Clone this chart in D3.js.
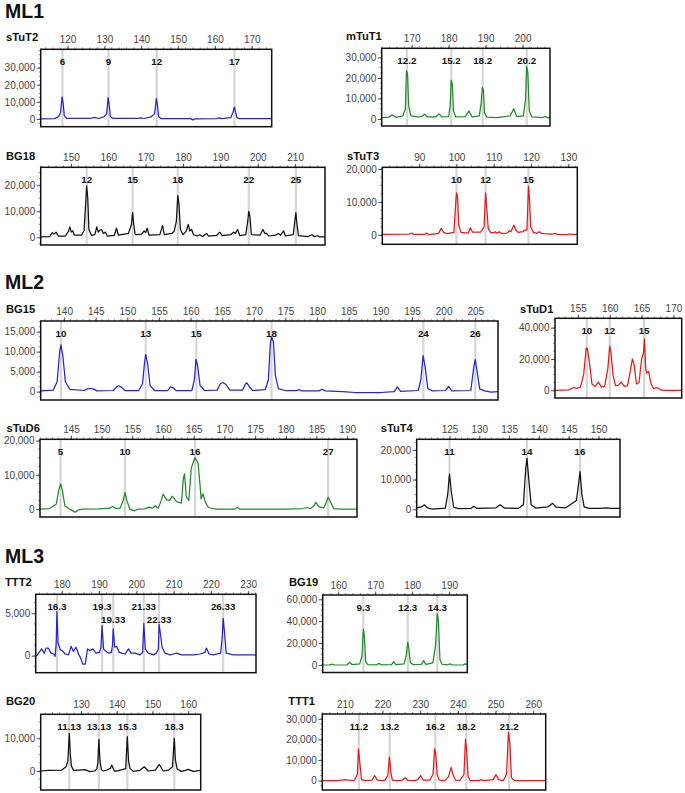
<!DOCTYPE html>
<html><head><meta charset="utf-8">
<script src="https://cdn.jsdelivr.net/npm/d3@7"></script>
<style>
body{margin:0;background:#fff}
svg{display:block}
text{font-family:Arial,"Liberation Sans",Helvetica,sans-serif}
</style>
</head><body>
<svg id="c" width="685" height="793"></svg>
<script>
// ===== DATA: traces are [size bp, RFU] =====
const sections = ["ML1", "ML2", "ML3"];

// ---- sTuT2 ----
const sTuT2_xticks = [120,130,140,150,160,170];
const sTuT2_yticks = [0,10000,20000,30000];
const sTuT2_alleles = ["6","9","12","17"];
const sTuT2_allelePos = [118.6,131.1,144.2,165.3];
const sTuT2_trace = [[112.7,100],[116.5,200],[117.6,1500],[118.1,4000],[118.5,13000],[118.8,9000],[119.1,2000],[119.8,300],[126,300],[127.3,1000],[128.5,300],[129.8,1200],[130.6,3000],[131.0,12500],[131.3,8000],[131.6,1500],[132.3,300],[138.8,300],[139.8,700],[140.8,300],[142.6,1200],[143.6,3000],[144.1,12000],[144.4,8000],[144.7,1500],[145.4,200],[153.4,200],[154,-500],[154.6,100],[160.5,200],[161.2,700],[161.9,200],[164.3,800],[164.9,4000],[165.3,7000],[165.6,4000],[166,800],[166.6,200],[175.4,200]];

// ---- mTuT1 ----
const mTuT1_xticks = [170,180,190,200];
const mTuT1_yticks = [0,10000,20000,30000];
const mTuT1_alleles = ["12.2","15.2","18.2","20.2"];
const mTuT1_allelePos = [168.7,180.7,189.2,201.1];
const mTuT1_trace = [[161.9,700],[163.8,900],[164.8,2000],[165.8,800],[167.6,1500],[168.3,5000],[168.6,23500],[168.9,22000],[169.2,6000],[169.8,1500],[171.5,1000],[172.7,1200],[173.5,2300],[174.3,1000],[176.5,1000],[177.4,2500],[178.2,1000],[180.0,1200],[180.4,6000],[180.7,19000],[181.0,17000],[181.3,4000],[181.9,1000],[184.5,1200],[185.5,4000],[186.3,1000],[188.3,1500],[188.8,8000],[189.1,15500],[189.4,14000],[189.7,3000],[190.3,900],[193,700],[196.6,1500],[197.6,5000],[198.4,1200],[200.2,1500],[200.8,10000],[201.1,25500],[201.4,23000],[201.8,4000],[202.5,1000],[205.5,700],[206.1,1300],[206.7,600],[207.4,600]];

// ---- BG18 ----
const BG18_xticks = [150,160,170,180,190,200,210];
const BG18_yticks = [0,10000,20000];
const BG18_alleles = ["12","15","18","22","25"];
const BG18_allelePos = [154.2,166.5,178.6,197.6,210.2];
const BG18_trace = [[141.9,200],[144.3,300],[145.0,1800],[145.5,1200],[146.0,2000],[146.6,500],[148.5,500],[149.4,2500],[149.7,4000],[150.1,2000],[150.5,2500],[150.9,800],[152.8,800],[153.5,2500],[153.9,12000],[154.2,19800],[154.5,15000],[154.8,3000],[155.5,700],[156.4,1000],[156.9,4000],[157.3,2000],[157.8,2800],[158.2,3000],[158.7,1500],[159.2,2000],[159.7,500],[161.6,700],[162.2,3500],[162.7,800],[165.4,1500],[166.2,5000],[166.5,9500],[166.8,5000],[167.2,1000],[168.9,1200],[169.6,2500],[170.0,1800],[170.4,3500],[170.9,800],[173.8,1000],[174.5,4500],[175.0,1000],[177.0,1500],[177.6,2200],[178.2,6000],[178.6,16000],[178.9,13000],[179.3,3000],[180.0,1000],[180.9,2500],[181.4,5000],[181.8,2500],[182.3,3000],[182.8,1000],[183.8,500],[184.5,1000],[185.2,300],[185.8,1000],[186.3,1500],[186.8,500],[189.0,700],[189.8,2000],[190.5,600],[192.8,1000],[193.5,2000],[194.0,1500],[194.6,3000],[195.2,600],[196.8,1000],[197.3,6000],[197.6,10000],[197.9,8000],[198.3,1000],[200.6,800],[201.4,3000],[201.9,1500],[202.4,1500],[202.9,500],[204.8,800],[205.5,1500],[206.1,800],[206.9,2500],[207.4,500],[209.5,1000],[209.9,6000],[210.2,9500],[210.5,5000],[210.9,600],[213.5,300],[214.5,1000],[215.1,300],[216.0,600],[216.6,200],[218,200]];

// ---- sTuT3 ----
const sTuT3_xticks = [90,100,110,120,130];
const sTuT3_yticks = [0,10000,20000];
const sTuT3_alleles = ["10","12","15"];
const sTuT3_allelePos = [100.0,107.8,119.3];
const sTuT3_trace = [[80.1,200],[87.3,300],[88.0,600],[88.6,200],[91.5,200],[92.0,600],[92.6,100],[95.2,500],[95.9,2000],[96.6,700],[97.5,400],[99.3,800],[99.7,8000],[100.0,12800],[100.3,11500],[100.6,3000],[101.2,800],[103.2,600],[103.7,2200],[104.3,900],[106.5,900],[107.4,2500],[107.8,12800],[108.1,8500],[108.5,2000],[109.2,700],[110.0,700],[110.4,1000],[110.9,500],[111.5,1000],[112.0,500],[113.6,600],[114.2,1300],[114.6,1000],[115.4,3000],[115.9,1500],[116.5,800],[117.8,1000],[118.3,1500],[118.9,1500],[119.3,14800],[119.6,10500],[119.9,2500],[120.6,800],[121.6,500],[122.2,1000],[122.8,500],[123.5,400],[125.8,300],[126.4,500],[127.1,200],[129.5,100],[130.2,300],[131,200],[132.4,200]];

// ---- BG15 ----
const BG15_xticks = [140,145,150,155,160,165,170,175,180,185,190,195,200,205];
const BG15_yticks = [0,5000,10000,15000];
const BG15_alleles = ["10","13","15","18","24","26"];
const BG15_allelePos = [139.5,152.9,160.9,172.8,196.8,205.0];
const BG15_trace = [[136.3,200],[138.3,400],[138.9,2500],[139.3,10000],[139.5,11700],[139.8,9000],[140.2,2500],[140.9,600],[143.2,300],[143.7,700],[144.1,800],[144.6,700],[145.2,200],[147.8,300],[148.3,1200],[148.6,1500],[149.0,1200],[149.6,300],[151.8,300],[152.4,2000],[152.7,7000],[152.9,9300],[153.2,7000],[153.6,1500],[154.3,300],[156.4,300],[156.8,1200],[157.2,1000],[157.7,300],[160.2,300],[160.6,3000],[160.85,8100],[161.1,6500],[161.5,1500],[162.2,300],[164.2,400],[164.7,2000],[165.1,2300],[165.6,1800],[166.2,400],[168.2,400],[168.7,2000],[168.9,2200],[169.3,1200],[169.8,300],[171.8,500],[172.3,3000],[172.6,12000],[172.8,13700],[173.1,12500],[173.4,4000],[173.9,700],[175,300],[176.8,300],[177.2,500],[177.6,200],[180.3,200],[180.8,600],[181.3,200],[184,0],[186,-200],[190,-200],[192.2,0],[192.7,1200],[193.2,100],[196,300],[196.4,3000],[196.75,9000],[197.1,6000],[197.5,800],[198.2,200],[200.3,300],[200.8,1300],[201.3,200],[204.3,300],[204.8,6500],[205.0,8000],[205.3,5000],[205.7,700],[206.5,200],[207.5,-100],[208.6,0]];

// ---- sTuD1 ----
const sTuD1_xticks = [155,160,165,170];
const sTuD1_yticks = [0,20000,40000];
const sTuD1_alleles = ["10","12","15"];
const sTuD1_allelePos = [156.4,160.0,165.4];
const sTuD1_trace = [[151.4,0],[153.6,300],[154.3,1800],[154.8,1200],[155.4,2000],[155.9,10000],[156.3,27000],[156.5,26500],[156.8,18000],[157.2,4000],[157.7,2500],[158.2,5200],[158.7,2000],[159.2,2500],[159.7,14000],[160.0,28300],[160.2,24000],[160.5,10000],[160.9,3000],[161.3,3000],[161.8,5200],[162.3,2500],[162.8,3000],[163.3,14000],[163.55,20000],[163.8,17000],[164.2,4000],[164.6,5000],[165.0,20000],[165.3,24000],[165.45,32800],[165.65,14000],[165.8,11000],[166.1,12000],[166.5,4000],[166.9,1000],[167.4,1800],[167.9,500],[168.5,0],[171.3,0]];

// ---- sTuD6 ----
const sTuD6_xticks = [145,150,155,160,165,170,175,180,185,190];
const sTuD6_yticks = [0,10000,20000];
const sTuD6_alleles = ["5","10","16","27"];
const sTuD6_allelePos = [143.3,153.8,165.2,186.9];
const sTuD6_trace = [[139.95,0],[141.5,200],[142.6,1500],[143.0,5500],[143.3,7400],[143.6,5500],[144.0,1000],[144.6,200],[145.3,-500],[145.7,-900],[146.2,-200],[147,0],[149.5,100],[151.3,300],[151.8,800],[152.3,200],[153.0,300],[153.5,2500],[153.8,4900],[154.1,2500],[154.6,0],[155.3,-500],[155.9,0],[157,100],[157.7,600],[158.3,300],[158.7,1000],[159.2,300],[159.7,2500],[160.0,4400],[160.6,2700],[161.1,2600],[161.5,3800],[162.2,2200],[163.0,1800],[163.3,9000],[163.5,10300],[163.8,3500],[164.2,2500],[164.6,12000],[165.2,15000],[165.7,13500],[166.0,7500],[166.2,3000],[166.5,4500],[166.9,2000],[167.4,500],[168.5,0],[171.6,0],[172.1,500],[172.6,0],[177.3,0],[180,0],[182.8,200],[183.4,500],[184,200],[184.5,800],[184.9,2000],[185.4,700],[186.2,400],[186.6,2000],[186.9,3500],[187.3,2000],[187.8,200],[189,0],[191.6,0]];

// ---- sTuT4 ----
const sTuT4_xticks = [125,130,135,140,145,150];
const sTuT4_yticks = [0,10000,20000];
const sTuT4_alleles = ["11","14","16"];
const sTuT4_allelePos = [125.0,138.0,146.9];
const sTuT4_trace = [[119.5,500],[120.3,800],[120.8,1500],[121.3,500],[122,100],[124.3,400],[124.7,5000],[125.0,11900],[125.3,6000],[125.7,700],[126.5,200],[128.6,300],[129.1,1000],[129.6,300],[132.8,500],[133.5,1500],[134.2,400],[136.5,300],[137.4,1500],[137.8,14000],[138.0,17200],[138.3,10000],[138.7,1500],[139.5,400],[141.5,800],[142.3,2000],[142.9,700],[144.5,500],[146.3,3000],[146.9,12700],[147.2,5000],[147.6,700],[148.5,300],[150.3,300],[151.4,500],[152,300],[153.6,300]];

// ---- TTT2 ----
const TTT2_xticks = [180,190,200,210,220,230];
const TTT2_yticks = [0,5000];
const TTT2_alleles = ["16.3","19.3","19.33","21.33","22.33","26.33"];
const TTT2_allelePos = [178.7,190.8,193.8,202.0,206.1,223.3];
const TTT2_trace = [[173.0,0],[173.3,0],[174.6,800],[175.3,300],[175.8,900],[176.4,900],[177.1,300],[177.8,200],[178.2,-100],[178.5,1500],[178.7,5200],[179.0,1500],[179.6,700],[180.1,600],[180.9,200],[181.8,100],[182.5,1100],[183.1,500],[183.8,1000],[184.6,100],[185.1,-300],[185.6,-1000],[186.3,-1000],[186.9,800],[187.6,600],[188.3,800],[189.2,300],[190.1,400],[190.5,1000],[190.8,3550],[191.2,800],[191.9,500],[192.6,300],[193.3,400],[193.6,1200],[193.8,3150],[194.2,1000],[194.7,1100],[195.4,400],[196.1,300],[197.0,200],[197.9,800],[198.6,300],[199.6,300],[201.0,100],[201.7,400],[202.0,3800],[202.4,800],[203.2,300],[204.6,100],[205.4,300],[205.9,800],[206.1,3700],[206.5,2500],[206.9,1000],[207.7,300],[209.0,100],[209.9,200],[210.8,300],[212.1,100],[213.5,100],[215.3,100],[217.1,200],[218.4,400],[218.8,900],[219.5,200],[220.6,100],[222.6,300],[223.0,2000],[223.3,4400],[223.7,2500],[224.1,300],[226.0,100],[232.1,100]];

// ---- BG19 ----
const BG19_xticks = [160,170,180,190];
const BG19_yticks = [0,20000,40000,60000];
const BG19_alleles = ["9.3","12.3","14.3"];
const BG19_allelePos = [166.8,178.8,186.8];
const BG19_trace = [[155.8,0],[157.8,100],[158.4,800],[159,0],[162.4,200],[163.1,2500],[163.8,300],[165.8,1000],[166.4,8000],[166.8,32500],[167.1,25000],[167.4,3000],[168,300],[170.4,200],[171,1500],[171.6,200],[174.4,400],[175,3000],[175.6,400],[177.8,1000],[178.4,9000],[178.8,21000],[179.1,15000],[179.5,2000],[180.3,300],[182.5,600],[183.1,4000],[183.7,500],[185.6,2000],[186.3,18000],[186.8,47000],[187.1,40000],[187.5,5000],[188.1,500],[189.6,200],[190.2,1000],[190.8,200],[193.7,0],[194.3,1000],[194.9,500]];

// ---- BG20 ----
const BG20_xticks = [130,140,150,160];
const BG20_yticks = [0,10000];
const BG20_alleles = ["11.13","13.13","15.3","18.3"];
const BG20_allelePos = [126.7,135.0,142.95,156.1];
const BG20_trace = [[118.7,0],[121,200],[124.6,300],[125.8,1300],[126.3,2900],[126.7,11500],[127.0,5000],[127.3,1500],[127.9,200],[129.5,300],[131.1,400],[132.5,-200],[133.8,0],[134.4,600],[134.7,2500],[135.0,9700],[135.3,3000],[135.7,400],[136.2,0],[137.2,300],[138.2,800],[138.6,1800],[139.1,500],[139.5,-100],[141,300],[142.5,700],[142.95,10500],[143.3,3000],[143.7,800],[144.6,-100],[146.5,200],[147.7,1300],[148.8,0],[150.8,300],[151.9,2000],[153.0,0],[154.5,300],[155.6,1300],[156.1,10000],[156.4,3500],[156.9,600],[158.1,-100],[159.2,200],[160.0,500],[161.4,-100],[163.5,200]];

// ---- TTT1 ----
const TTT1_xticks = [210,220,230,240,250,260];
const TTT1_yticks = [0,10000,20000,30000];
const TTT1_alleles = ["11.2","13.2","16.2","18.2","21.2"];
const TTT1_allelePos = [213.7,221.9,234.0,242.2,253.6];
const TTT1_trace = [[204.0,0],[208,0],[209.2,300],[210,500],[210.8,300],[212.5,200],[213.3,3000],[213.6,15500],[214.0,8000],[214.4,500],[215.5,0],[217.2,300],[217.9,2500],[218.6,300],[220.5,0],[221.4,2500],[221.8,11500],[222.2,4000],[222.6,300],[224,0],[225.3,300],[226.0,1500],[226.7,200],[228.5,0],[229.4,600],[230.1,2500],[230.8,300],[232.5,300],[233.4,3000],[233.8,15500],[234.1,13500],[234.5,3000],[235,300],[236.5,0],[237.5,2000],[238.2,6500],[238.7,3000],[239.3,300],[240.5,200],[241.6,3000],[242.0,20000],[242.3,15000],[242.7,2000],[243.3,0],[245.5,0],[246.2,500],[246.8,0],[249.4,500],[250.1,3000],[250.8,500],[252,0],[252.9,3000],[253.4,23500],[253.8,18000],[254.2,1500],[255,0],[263.3,0]];

// ===== LAYOUT =====
const BLUE = "#2626c8", GREEN = "#23892a", RED = "#e3191c", BLACK = "#111111";
const headPos = [[5,17.8],[5,288.5],[5,562.5]];
const panels = [
  {name:"sTuT2", tx:6, ty:41, l:40.7, t:49.3, r:271.7, b:126.7, xd:[112.7,175.4], yd:[-4500,40760], minorX:2, minorY:2500, color:BLUE,
   xt:sTuT2_xticks, yt:sTuT2_yticks, al:sTuT2_alleles, ap:sTuT2_allelePos, tr:sTuT2_trace},
  {name:"mTuT1", tx:346, ty:40, l:381.7, t:48.3, r:550, b:126, xd:[161.9,207.4], yd:[-3415,34490], minorX:2, minorY:2500, color:GREEN,
   xt:mTuT1_xticks, yt:mTuT1_yticks, al:mTuT1_alleles, ap:mTuT1_allelePos, tr:mTuT1_trace},
  {name:"BG18", tx:6, ty:160, l:40.7, t:167.3, r:325, b:245, xd:[141.9,218], yd:[-2960,26920], minorX:2, minorY:2500, color:BLACK,
   xt:BG18_xticks, yt:BG18_yticks, al:BG18_alleles, ap:BG18_allelePos, tr:BG18_trace},
  {name:"sTuT3", tx:347, ty:159.5, l:382.3, t:167.3, r:577.3, b:244.3, xd:[80.1,132.4], yd:[-2818,20520], minorX:2, minorY:2500, color:RED,
   xt:sTuT3_xticks, yt:sTuT3_yticks, al:sTuT3_alleles, ap:sTuT3_allelePos, tr:sTuT3_trace},
  {name:"BG15", tx:6, ty:312.7, l:40.7, t:321, r:498, b:400, xd:[136.3,208.6], yd:[-2075,17675], minorX:1, minorY:1250, color:BLUE,
   xt:BG15_xticks, yt:BG15_yticks, al:BG15_alleles, ap:BG15_allelePos, tr:BG15_trace},
  {name:"sTuD1", tx:520, ty:312.7, l:555, t:318.3, r:681.7, b:398, xd:[151.4,171.3], yd:[-4920,46000], minorX:1, minorY:5000, color:RED,
   xt:sTuD1_xticks, yt:sTuD1_yticks, al:sTuD1_alleles, ap:sTuD1_allelePos, tr:sTuD1_trace},
  {name:"sTuD6", tx:6.5, ty:432, l:40, t:439.3, r:357, b:517, xd:[139.95,191.6], yd:[-2274,20380], minorX:1, minorY:2500, color:GREEN,
   xt:sTuD6_xticks, yt:sTuD6_yticks, al:sTuD6_alleles, ap:sTuD6_allelePos, tr:sTuD6_trace},
  {name:"sTuT4", tx:380.7, ty:432.3, l:416.7, t:439.3, r:620, b:517, xd:[119.5,153.6], yd:[-2597,23610], minorX:1, minorY:2500, color:BLACK,
   xt:sTuT4_xticks, yt:sTuT4_yticks, al:sTuT4_alleles, ap:sTuT4_allelePos, tr:sTuT4_trace},
  {name:"TTT2", tx:5, ty:585.7, l:35.7, t:594.3, r:256, b:672.7, xd:[173.0,232.1], yd:[-2005,7240], minorX:2, minorY:1250, color:BLUE,
   xt:TTT2_xticks, yt:TTT2_yticks, al:TTT2_alleles, ap:TTT2_allelePos, tr:TTT2_trace, rows:[0,0,1,0,1,0]},
  {name:"BG19", tx:289, ty:586, l:322.7, t:595, r:467.3, b:672.5, xd:[155.8,194.9], yd:[-6850,63930], minorX:2, minorY:5000, color:GREEN,
   xt:BG19_xticks, yt:BG19_yticks, al:BG19_alleles, ap:BG19_allelePos, tr:BG19_trace},
  {name:"BG20", tx:6, ty:705, l:40.7, t:714.3, r:200.7, b:790, xd:[118.7,163.5], yd:[-5810,17340], minorX:2, minorY:2500, color:BLACK,
   xt:BG20_xticks, yt:BG20_yticks, al:BG20_alleles, ap:BG20_allelePos, tr:BG20_trace},
  {name:"TTT1", tx:288.3, ty:705, l:322.3, t:714, r:545.7, b:790, xd:[204.0,263.3], yd:[-4520,32370], minorX:2, minorY:2500, color:RED,
   xt:TTT1_xticks, yt:TTT1_yticks, al:TTT1_alleles, ap:TTT1_allelePos, tr:TTT1_trace}
];

const svg = d3.select("#c");
svg.append("rect").attr("width",685).attr("height",793).attr("fill","#fff");

svg.selectAll("text.head").data(sections).join("text").attr("class","head")
  .attr("x",(d,i)=>headPos[i][0]).attr("y",(d,i)=>headPos[i][1])
  .attr("font-size",19.5).attr("font-weight","bold").attr("fill","#111").text(d=>d);

const defs = svg.append("defs");
const fmt = d3.format(",");

panels.forEach((p,pi)=>{
  const x = d3.scaleLinear().domain(p.xd).range([p.l,p.r]);
  const y = d3.scaleLinear().domain(p.yd).range([p.b,p.t]);
  const g = svg.append("g");
  const cid = "clip"+pi;
  defs.append("clipPath").attr("id",cid).append("rect")
    .attr("x",p.l).attr("y",p.t).attr("width",p.r-p.l).attr("height",p.b-p.t);

  // allele marker bands
  g.selectAll("line.al").data(p.ap).join("line").attr("class","al")
    .attr("x1",d=>x(d)).attr("x2",d=>x(d)).attr("y1",p.t).attr("y2",p.b)
    .attr("stroke","#d6d6d6").attr("stroke-width",2.2);

  // trace
  g.append("path").datum(p.tr).attr("clip-path",`url(#${cid})`)
    .attr("d",d3.line().x(d=>x(d[0])).y(d=>y(d[1])))
    .attr("fill","none").attr("stroke",p.color).attr("stroke-width",1.25)
    .attr("stroke-linejoin","round");

  // allele labels
  g.selectAll("text.lab").data(p.al).join("text").attr("class","lab")
    .attr("x",(d,i)=>x(p.ap[i]))
    .attr("y",(d,i)=>p.t+15.7+(p.rows?p.rows[i]*12.7:0))
    .attr("text-anchor","middle").attr("font-size",9.8).attr("font-weight","bold").attr("fill","#111")
    .text(d=>d);

  // top axis minor ticks
  const minorX = d3.range(Math.ceil(p.xd[0]/p.minorX)*p.minorX, p.xd[1], p.minorX);
  g.selectAll("line.mx").data(minorX).join("line").attr("class","mx")
    .attr("x1",d=>x(d)).attr("x2",d=>x(d)).attr("y1",p.t).attr("y2",p.t-2)
    .attr("stroke","#777").attr("stroke-width",0.8);
  // left axis minor ticks
  const minorY = d3.range(Math.ceil(p.yd[0]/p.minorY)*p.minorY, p.yd[1], p.minorY);
  g.selectAll("line.my").data(minorY).join("line").attr("class","my")
    .attr("x1",p.l).attr("x2",p.l-2).attr("y1",d=>y(d)).attr("y2",d=>y(d))
    .attr("stroke","#777").attr("stroke-width",0.8);

  // axes
  const ax = g.append("g").attr("transform",`translate(0,${p.t})`)
    .call(d3.axisTop(x).tickValues(p.xt).tickSize(3.5).tickPadding(3).tickFormat(d3.format("d")));
  const ay = g.append("g").attr("transform",`translate(${p.l},0)`)
    .call(d3.axisLeft(y).tickValues(p.yt).tickSize(4).tickPadding(1.5).tickFormat(fmt));
  [ax,ay].forEach(a=>{
    a.select(".domain").remove();
    a.selectAll(".tick line").attr("stroke","#555");
    a.selectAll(".tick text").attr("font-size",10).attr("fill","#444")
      .attr("font-family","Arial, 'Liberation Sans', sans-serif");
  });

  // frame
  g.append("rect").attr("x",p.l).attr("y",p.t).attr("width",p.r-p.l).attr("height",p.b-p.t)
    .attr("fill","none").attr("stroke","#111").attr("stroke-width",1.5);

  // title
  g.append("text").attr("x",p.tx).attr("y",p.ty).attr("font-size",11.2).attr("font-weight","bold")
    .attr("fill","#111").text(p.name);
});
</script>
</body></html>
